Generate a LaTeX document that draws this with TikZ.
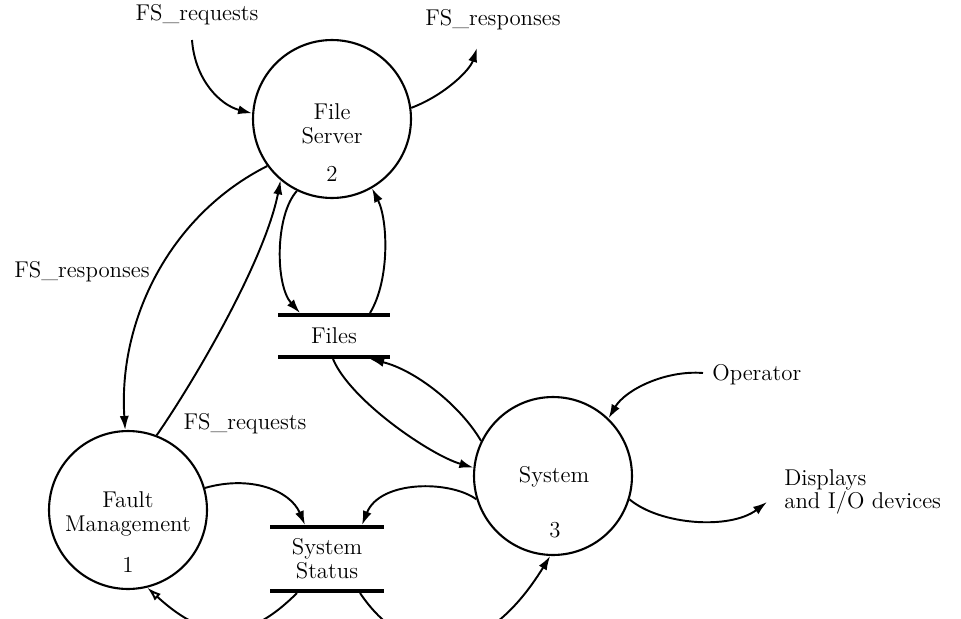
\documentclass[tikz,border=0pt]{standalone}
\usetikzlibrary{arrows.meta,calc}
\begin{document}
\begin{tikzpicture}[x=0.02cm,y=-0.02cm,
  txt/.style={font=\fontsize{13}{14}\selectfont,inner sep=0pt},
  proc/.style={draw,circle,line width=1.2pt,minimum size=3.16cm,inner sep=0pt},
  store/.style={minimum height=#1,inner sep=0pt,outer sep=0pt,align=center,
    font=\fontsize{13}{13.6}\selectfont},
  bar/.style={line width=2.4pt},
  flow/.style={line width=1.1pt,-{Latex[length=8pt,width=5.2pt]}},
  backflow/.style={line width=1.1pt,-{Latex[open,length=8pt,width=5.2pt]}}]
\useasboundingbox (0,0) rectangle (961,619);

% processes
\node[proc] (fs) at (332,119) {};
\node[txt,align=center,font=\fontsize{13}{13.6}\selectfont] (fsname) at (332,124) {File\\Server};
\node[txt] (fsnum) at (332,174) {2};

\node[proc] (fm) at (128,510) {};
\node[txt,align=center,font=\fontsize{13}{13.6}\selectfont] (fmname) at (128,514) {Fault\\Management};
\node[txt] (fmnum) at (128,565) {1};

\node[proc] (sy) at (553,476) {};
\node[txt] (syname) at (554,477) {System};
\node[txt] (synum) at (555,530) {3};

% data stores
\node[store=0.84cm,minimum width=2.24cm] (files) at (334,336) {Files};
\draw[bar] (files.north west) -- (files.north east);
\draw[bar] (files.south west) -- (files.south east);

\node[store=1.28cm,minimum width=2.28cm] (ss) at (327,559) {System\\Status};
\draw[bar] (ss.north west) -- (ss.north east);
\draw[bar] (ss.south west) -- (ss.south east);

% external labels
\node[txt] (rqtop) at (197,15) {FS\_requests};
\node[txt] (rstop) at (493,20) {FS\_responses};
\node[txt] (rsleft) at (82,272) {FS\_responses};
\node[txt] (rqlow) at (245,424) {FS\_requests};
\node[txt,anchor=west] (op) at (712,375) {Operator};
\node[txt,anchor=west,align=left,font=\fontsize{13}{10.5}\selectfont] (disp) at (784,492) {Displays\\and I/O devices};

% free ends and store attachment points
\coordinate (rqin) at (192,40);
\coordinate (rsout) at (477,48);
\coordinate (opout) at (703,373);
\coordinate (dispin) at (767,502);
\coordinate (filesTL) at ($(files.north)+(-34,-2)$);
\coordinate (filesTR) at ($(files.north)+(36,-2)$);
\coordinate (filesBL) at ($(files.south)+(-1,2)$);
\coordinate (filesBR) at ($(files.south)+(36,2)$);
\coordinate (ssTL) at ($(ss.north)+(-22,-2)$);
\coordinate (ssTR) at ($(ss.north)+(35,-2)$);
\coordinate (ssBL) at ($(ss.south)+(-30,2)$);
\coordinate (ssBR) at ($(ss.south)+(33,2)$);

% flows
\draw[flow] (rqin) .. controls (195,80) and (220,105) .. (fs.176);
\draw[flow] (fs.8) .. controls (445,95) and (470,70) .. (rsout);
\draw[flow] (fs.216) .. controls (170,215) and (118,320) .. (fm.92);
\draw[flow] (fm.69) .. controls (195,380) and (265,260) .. (fs.230);
\draw[flow] (fs.244) .. controls (275,215) and (275,285) .. (filesTL);
\draw[flow] (filesTR) .. controls (390,280) and (388,220) .. (fs.300);
\draw[flow] (filesBL) .. controls (350,400) and (430,455) .. (sy.174);
\draw[flow] (sy.154) .. controls (460,405) and (415,370) .. (filesBR);
\draw[flow] (opout) .. controls (665,370) and (625,390) .. (sy.46);
\draw[flow] (sy.343) .. controls (660,525) and (730,530) .. (dispin);
\draw[flow] (sy.197) .. controls (450,480) and (380,480) .. (ssTR);
\draw[flow] (fm.16) .. controls (250,475) and (290,490) .. (ssTL);
\draw[flow] (ssBR) .. controls (405,660) and (480,670) .. (sy.268);
\draw[backflow] (ssBL) .. controls (250,640) and (210,645) .. (fm.284);
\end{tikzpicture}
\end{document}
